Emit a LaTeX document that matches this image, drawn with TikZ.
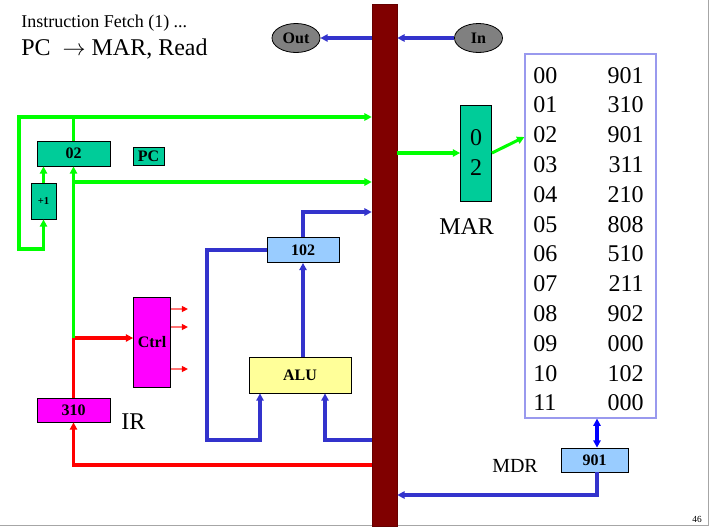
\documentclass[tikz,border=0pt]{standalone}
\usepackage{fontspec}
\setmainfont{Liberation Serif}
\usetikzlibrary{arrows.meta,shapes.geometric}

\definecolor{regteal}{HTML}{00CC99}
\definecolor{regmag}{HTML}{FF00FF}
\definecolor{regblue}{HTML}{99CCFF}
\definecolor{aluyellow}{HTML}{FFFF99}
\definecolor{busred}{HTML}{800000}
\definecolor{wireblue}{HTML}{3333CC}
\definecolor{wiregreen}{HTML}{00FF00}
\definecolor{memblue}{HTML}{9999EE}
\definecolor{ellgray}{HTML}{808080}

\begin{document}
\begin{tikzpicture}[x=0.75pt,y=-0.75pt,
  reg/.style={draw,line width=0.6pt,inner sep=0pt,font=\fontsize{12}{14}\selectfont\bfseries},
  ioell/.style={ellipse,draw,line width=0.6pt,fill=ellgray,inner sep=0pt,minimum width=36pt,minimum height=21.75pt,font=\fontsize{12}{14}\selectfont\bfseries},
  lbl/.style={inner sep=0pt,font=\fontsize{18}{22}\selectfont},
  memtxt/.style={inner sep=0pt,font=\fontsize{18}{22}\selectfont},
  tip/.style={-{Triangle[length=5.5pt,width=5.5pt]}},
  gline/.style={tip,draw=wiregreen,line width=2.3pt},
  rline/.style={tip,draw=red,line width=2.3pt},
  bline/.style={tip,draw=wireblue,line width=2.3pt},
  dline/.style={{Triangle[length=5.5pt,width=5.5pt]}-{Triangle[length=5.5pt,width=5.5pt]},draw=blue,line width=2.3pt},
  ctrlout/.style={-{Triangle[length=4.5pt,width=4.5pt,color=red]},draw=red!55,line width=0.9pt}]
  \useasboundingbox (0,0) rectangle (709,526);
  \draw[gray!70,line width=0.75pt] (0,525) -- (708,525) -- (708,0);

  % heading
  \node[anchor=base west,inner sep=0pt,font=\fontsize{13.5}{16}\selectfont] (title) at (21,27) {Instruction Fetch (1) ...};
  \node[anchor=base west,inner sep=0pt,font=\fontsize{18}{22}\selectfont] (subtitle) at (21,55) {PC \ $\rightarrow$ MAR, Read};

  % bus and I/O
  \node[draw=busred!80!black,fill=busred,inner sep=0pt,minimum width=18.75pt,minimum height=391.5pt] (bus) at (384.5,265) {};
  \node[ioell] (out) at (296,38) {Out};
  \node[ioell] (in) at (478.5,38) {In};

  % registers
  \node[reg,fill=regteal,minimum width=54.75pt,minimum height=18.75pt] (pc) at (73.5,153.5) {02};
  \node[reg,fill=regteal,minimum width=23.25pt,minimum height=13.5pt] (pcname) at (148.5,156) {PC};
  \node[reg,fill=regteal,minimum width=18.75pt,minimum height=27pt,font=\fontsize{8}{9}\selectfont\bfseries] (inc) at (43.5,201) {+1};
  \node[reg,fill=regmag,minimum width=54.75pt,minimum height=18pt] (ir) at (73.5,410) {310};
  \node[reg,fill=regmag,minimum width=27.75pt,minimum height=67.5pt] (ctrl) at (152,342) {Ctrl};
  \node[reg,fill=aluyellow,minimum width=76.5pt,minimum height=27pt] (alu) at (300,375) {ALU};
  \node[reg,fill=regblue,minimum width=54pt,minimum height=18.75pt] (acc) at (303,250) {102};
  \node[reg,fill=regteal,minimum width=23.25pt,minimum height=72pt,align=center,font=\fontsize{18}{22.5}\selectfont] (mar) at (476,153) {0\\2};
  \node[reg,fill=regblue,minimum width=50.25pt,minimum height=18pt] (mdr) at (594.5,460) {901};

  % memory
  \node[draw=memblue,line width=0.9pt,inner sep=0pt,minimum width=98.25pt,minimum height=273pt] (mem) at (590.5,236) {};
  \foreach \a/\v [count=\i from 0] in {00/901,01/310,02/901,03/311,04/210,05/808,06/510,07/211,08/902,09/000,10/102,11/000} {
    \node[memtxt,anchor=base west] (a\a) at (533,83+29.8*\i) {\a};
    \node[memtxt,anchor=base east] (v\a) at (644,83+29.8*\i) {\v};
  }

  % labels
  \node[lbl,anchor=base west] (irname) at (121,429) {IR};
  \node[lbl,anchor=base west] (marname) at (439,234) {MAR};
  \node[lbl,anchor=base west,font=\fontsize{15}{18}\selectfont] (mdrname) at (492,472) {MDR};
  \node[anchor=base east,inner sep=0pt,font=\fontsize{7}{8}\selectfont] (pageno) at (702,522) {46};

  % wire corners
  \coordinate (top) at (0,117);
  \coordinate (mid) at (0,182);
  \coordinate (loop) at (19,249);
  \coordinate (split) at (73.5,338);
  \coordinate (accout) at (0,212);
  \coordinate (fbl) at (207,440);
  \coordinate (ina) at (260,0);
  \coordinate (inb) at (325,0);
  \coordinate (irin) at (0,465);
  \coordinate (addr) at (0,137);
  \coordinate (mdrx) at (597,0);
  \coordinate (mdrout) at (0,495);

  % green: PC paths
  \draw[gline] (pc.north) |- (bus.west |- top);
  \draw[gline] (pc.north |- top) -| (loop) -| (inc.south);
  \draw[gline] (inc.north) -- (pc.south -| inc);
  \draw[gline] (pc.south |- mid) -- (bus.west |- mid);
  \draw[gline] (bus.east |- mar) -- (mar.west);
  \draw[gline] (mar.east) -- (mem.west |- addr);

  % red: IR and control
  \draw[rline] (ir.north) -- (split) -- (ctrl.west |- split);
  \draw[gline] (split) -- (pc.south);
  \draw[rline] (bus.west |- irin) -| (ir.south);
  \foreach \y in {309,327,369}
    \draw[ctrlout] (ctrl.east |- 0,\y) -- ++(17,0);

  % blue: ALU, I/O, MDR
  \draw[bline] (alu.north -| acc) -- (acc.south);
  \draw[bline] (acc.north) |- (bus.west |- accout);
  \draw[bline] (acc.west) -| (fbl) -| (alu.south -| ina);
  \draw[bline] (bus.west |- fbl) -| (alu.south -| inb);
  \draw[bline] (bus.west |- out) -- (out.east);
  \draw[bline] (in.west) -- (bus.east |- in);
  \draw[dline] (mem.south -| mdrx) -- (mdr.north -| mdrx);
  \draw[bline] (mdr.south -| mdrx) |- (bus.east |- mdrout);
\end{tikzpicture}
\end{document}
